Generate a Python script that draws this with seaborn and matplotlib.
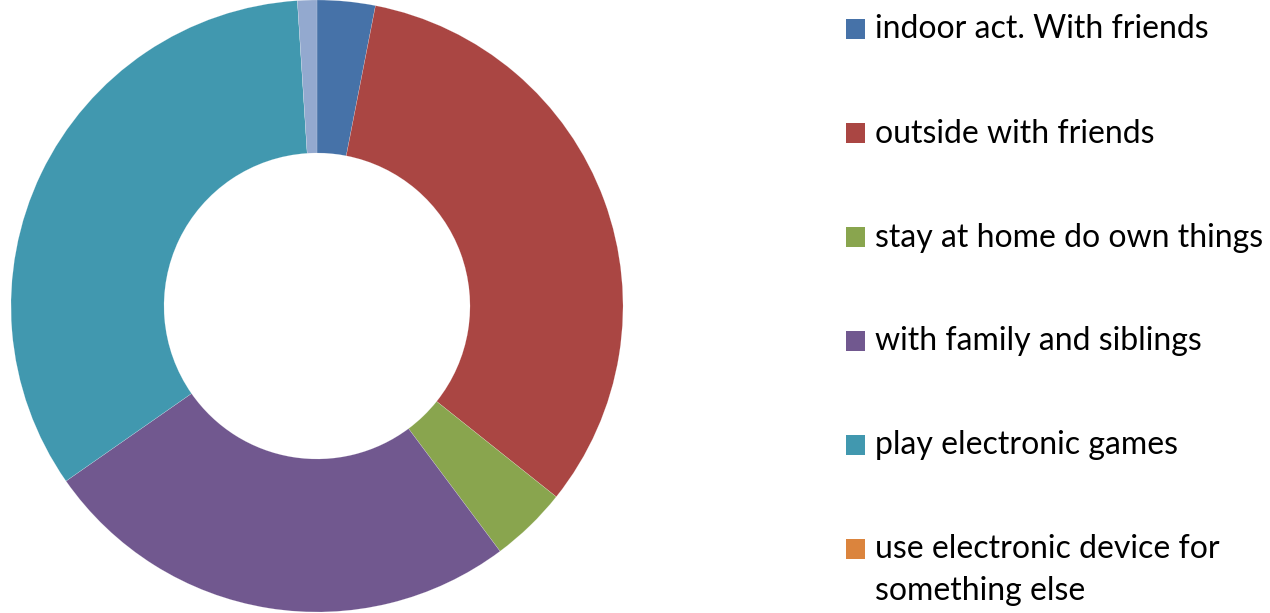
import matplotlib
matplotlib.use("Agg")
import matplotlib.pyplot as plt
from matplotlib.patches import Rectangle
import seaborn as sns

# Time-use categories and response counts
categories = [
    "indoor act. With friends",
    "outside with friends",
    "stay at home do own things",
    "with family and siblings",
    "play electronic games",
    "use electronic device for\nsomething else",
    "other",
]
counts = [3, 32, 4, 25, 33, 0, 1]
colors = ["#4672A8", "#AA4643", "#89A54E", "#71588F", "#4198AF", "#DB843D", "#93A9CF"]
legend_count = 6

sns.set_theme(style="white")
plt.rcParams["font.family"] = ["Lato", "DejaVu Sans"]
palette = sns.color_palette(colors)

W, H = 1270, 613
fig = plt.figure(figsize=(W / 100, H / 100), dpi=100)
ax = fig.add_axes([11 / W, 1 / H, 612 / W, 612 / H])
wedges, _ = ax.pie(
    counts,
    colors=palette,
    startangle=90,
    counterclock=False,
    radius=1.0,
    wedgeprops=dict(width=0.5, edgecolor=(1, 1, 1, 0.5), linewidth=0.2),
)
ax.set_xlim(-1, 1)
ax.set_ylim(-1, 1)
ax.set_aspect("equal")
ax.axis("off")

# Legend: square key plus label, one row per category
row_top, row_step, line_step = 19, 104, 42
key_x, key_size, text_x = 846, 19.5, 875
for i in range(legend_count):
    top = row_top + i * row_step
    baseline = top + key_size
    fig.add_artist(Rectangle(
        (key_x / W, 1 - baseline / H), key_size / W, key_size / H,
        transform=fig.transFigure, facecolor=palette[i], edgecolor="none",
    ))
    for k, line in enumerate(categories[i].split("\n")):
        fig.text(
            text_x / W, 1 - (baseline + k * line_step) / H, line,
            fontsize=23, color="black", va="baseline", ha="left",
        )

fig.savefig("out.png", dpi=100, facecolor="white")
